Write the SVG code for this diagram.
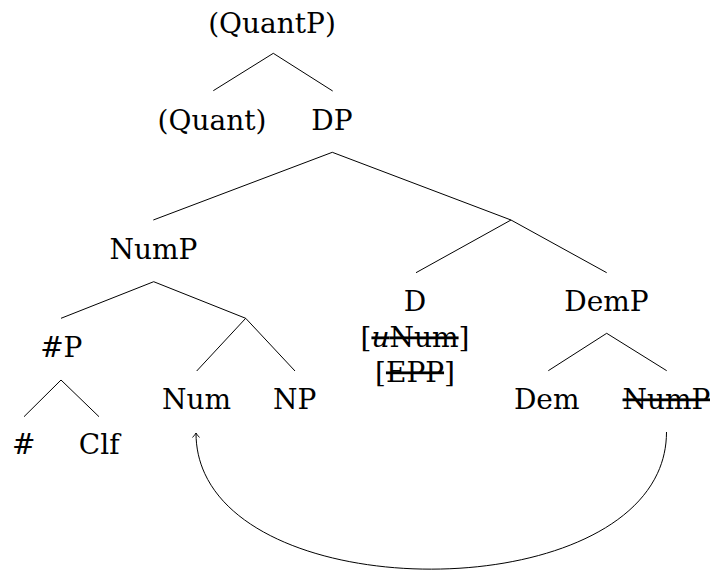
<svg xmlns="http://www.w3.org/2000/svg" width="710" height="571" viewBox="0 0 710 571">
<style>
text{font-family:"DejaVu Serif","Liberation Serif",serif;font-size:28px;fill:#000;text-anchor:middle}
.e line,.e path{stroke:#000;stroke-width:1;fill:none}
.s{text-decoration:line-through}
</style>
<defs>
<marker id="ah" markerUnits="userSpaceOnUse" markerWidth="12" markerHeight="12" refX="0" refY="0" viewBox="-6 -6 12 12" orient="auto" overflow="visible">
<path d="M-4.5,-3.5 Q-1.5,-0.8 0,0 Q-1.5,0.8 -4.5,3.5" fill="none" stroke="#000" stroke-width="0.9"/>
</marker>
</defs>
<rect width="710" height="571" fill="#fff"/>
<g id="QuantP"><text x="272" y="33">(QuantP)</text></g>
<g id="Quant"><text x="212" y="130">(Quant)</text></g>
<g id="DP"><text x="332" y="130">DP</text></g>
<g id="NumP"><text x="153.5" y="258.5">NumP</text></g>
<g id="D"><text x="415" y="311">D</text><text x="415" y="346.5">[<tspan class="s"><tspan font-style="italic">u</tspan>Num</tspan>]</text><text x="415" y="381.5">[<tspan class="s">EPP</tspan>]</text></g>
<g id="DemP"><text x="606.5" y="311">DemP</text></g>
<g id="HashP"><text x="61.3" y="357.3">#P</text></g>
<g id="Num"><text x="196.5" y="409">Num</text></g>
<g id="NP"><text x="294.7" y="409">NP</text></g>
<g id="Dem"><text x="546.7" y="408.5">Dem</text></g>
<g id="NumP-copy"><text x="666.5" y="408.5" class="s">NumP</text></g>
<g id="Hash"><text x="23.7" y="454">#</text></g>
<g id="Clf"><text x="99.2" y="454">Clf</text></g>
<g id="connectors" class="e">
<line x1="273.3" y1="53.3" x2="213.3" y2="90.7"/>
<line x1="273.3" y1="53.3" x2="332.7" y2="91"/>
<line x1="332.3" y1="152.3" x2="153.3" y2="220"/>
<line x1="332.3" y1="152.3" x2="511" y2="220"/>
<line x1="511" y1="220" x2="416" y2="272.7"/>
<line x1="511" y1="220" x2="606.7" y2="272.7"/>
<line x1="153.7" y1="281.7" x2="61" y2="318.3"/>
<line x1="153.7" y1="281.7" x2="245.7" y2="318.3"/>
<line x1="245.7" y1="318.3" x2="196.7" y2="371"/>
<line x1="245.7" y1="318.3" x2="295" y2="371"/>
<line x1="61" y1="380" x2="24" y2="416.7"/>
<line x1="61" y1="380" x2="99" y2="416.7"/>
<line x1="606.7" y1="333.3" x2="548.3" y2="370.7"/>
<line x1="606.7" y1="333.3" x2="666.7" y2="370.7"/>
<path d="M666.5,432 C666.5,614.7 196,614.7 196,433" marker-end="url(#ah)"/>
</g>
</svg>
